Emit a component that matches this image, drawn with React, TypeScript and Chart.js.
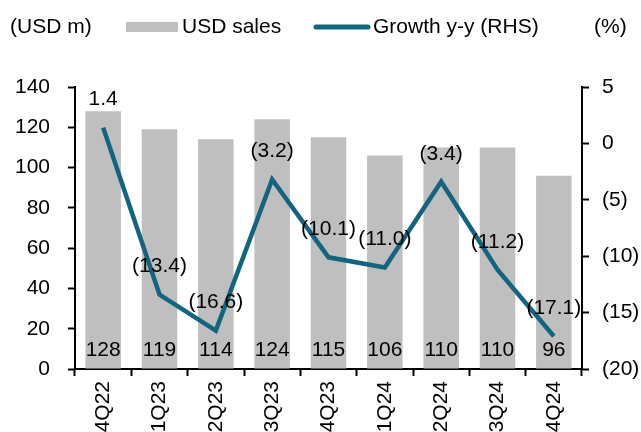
import { useEffect, useRef } from "react";
import { Chart, registerables } from "chart.js";

Chart.register(...registerables);

const categories = ["4Q22", "1Q23", "2Q23", "3Q23", "4Q23", "1Q24", "2Q24", "3Q24", "4Q24"];
const usdSales = [128, 119, 114, 124, 115, 106, 110, 110, 96];
const growthYY = [1.4, -13.4, -16.6, -3.2, -10.1, -11.0, -3.4, -11.2, -17.1];

const leftTitle = "(USD m)";
const rightTitle = "(%)";
const barLabel = "USD sales";
const lineLabel = "Growth y-y (RHS)";

const BAR_COLOR = "#bfbfbf";
const LINE_COLOR = "#13647e";
const FONT = '21px "Liberation Sans", Arial, sans-serif';

const fmtPct = (v: number, digits: number) =>
  v < 0 ? `(${(-v).toFixed(digits)})` : v.toFixed(digits);

const labelsPlugin = {
  id: "customLabels",
  afterDatasetsDraw(chart: any) {
    const ctx = chart.ctx as CanvasRenderingContext2D;
    ctx.save();
    ctx.font = FONT;
    ctx.fillStyle = "#000";
    ctx.textAlign = "center";
    ctx.textBaseline = "middle";
    const y0 = chart.scales.y.getPixelForValue(0);
    chart.getDatasetMeta(0).data.forEach((el: any, i: number) => {
      ctx.fillText(String(usdSales[i]), el.x, y0 - 19);
    });
    chart.getDatasetMeta(1).data.forEach((el: any, i: number) => {
      ctx.fillText(fmtPct(growthYY[i], 1), el.x, el.y - 28);
    });

    // legend / titles
    ctx.textAlign = "left";
    ctx.fillText(leftTitle, 10, 27);
    ctx.fillStyle = BAR_COLOR;
    ctx.fillRect(126, 22, 52, 10);
    ctx.fillStyle = "#000";
    ctx.fillText(barLabel, 182, 27);
    ctx.strokeStyle = LINE_COLOR;
    ctx.lineWidth = 5;
    ctx.lineCap = "round";
    ctx.beginPath();
    ctx.moveTo(316, 27);
    ctx.lineTo(368, 27);
    ctx.stroke();
    ctx.fillText(lineLabel, 373, 27);
    ctx.fillText(rightTitle, 594, 27);
    ctx.restore();
  },
};

export default function App() {
  const ref = useRef<HTMLCanvasElement>(null);

  useEffect(() => {
    document.body.style.margin = "0";
    const canvas = ref.current!;
    Chart.defaults.font.family = '"Liberation Sans", Arial, sans-serif';
    Chart.defaults.font.size = 21;
    Chart.defaults.color = "#000";

    const chart = new Chart(canvas, {
      type: "bar",
      data: {
        labels: categories,
        datasets: [
          {
            type: "bar",
            label: barLabel,
            data: usdSales,
            backgroundColor: BAR_COLOR,
            borderWidth: 0,
            barPercentage: 0.63,
            categoryPercentage: 1,
            yAxisID: "y",
            order: 2,
          },
          {
            type: "line",
            label: lineLabel,
            data: growthYY,
            borderColor: LINE_COLOR,
            backgroundColor: LINE_COLOR,
            borderWidth: 4.5,
            pointRadius: 0,
            tension: 0,
            borderJoinStyle: "miter",
            yAxisID: "y2",
            order: 1,
          },
        ],
      },
      options: {
        responsive: false,
        animation: false,
        devicePixelRatio: 1,
        layout: { padding: { top: 87, left: 0, right: 0, bottom: 0 } },
        plugins: {
          legend: { display: false },
          tooltip: { enabled: false },
        },
        scales: {
          x: {
            offset: true,
            grid: {
              offset: true,
              drawOnChartArea: false,
              drawTicks: true,
              tickLength: 7,
              tickWidth: 2,
              tickColor: "#000",
            },
            border: { display: true, color: "#000", width: 2 },
            ticks: {
              minRotation: 90,
              maxRotation: 90,
              padding: 5,
              font: { size: 21 },
              color: "#000",
            },
            afterFit: (s: any) => {
              s.height = 63;
            },
          },
          y: {
            position: "left",
            min: 0,
            max: 140,
            grid: {
              drawOnChartArea: false,
              drawTicks: true,
              tickLength: 7,
              tickWidth: 2,
              tickColor: "#000",
            },
            border: { display: true, color: "#000", width: 2 },
            ticks: { stepSize: 20, padding: 18, font: { size: 21 }, color: "#000" },
            afterFit: (s: any) => {
              s.width = 75;
            },
          },
          y2: {
            position: "right",
            min: -20,
            max: 5,
            grid: {
              drawOnChartArea: false,
              drawTicks: true,
              tickLength: 7,
              tickWidth: 2,
              tickColor: "#000",
            },
            border: { display: true, color: "#000", width: 2 },
            ticks: {
              stepSize: 5,
              padding: 13,
              font: { size: 21 },
              color: "#000",
              callback: (v: any) => fmtPct(Number(v), 0),
            },
            afterFit: (s: any) => {
              s.width = 59;
            },
          },
        },
      },
      plugins: [labelsPlugin],
    });
    return () => chart.destroy();
  }, []);

  return (
    <div style={{ position: "absolute", left: 0, top: 0, width: 641, height: 432 }}>
      <canvas ref={ref} width={641} height={432} style={{ width: 641, height: 432 }} />
    </div>
  );
}
